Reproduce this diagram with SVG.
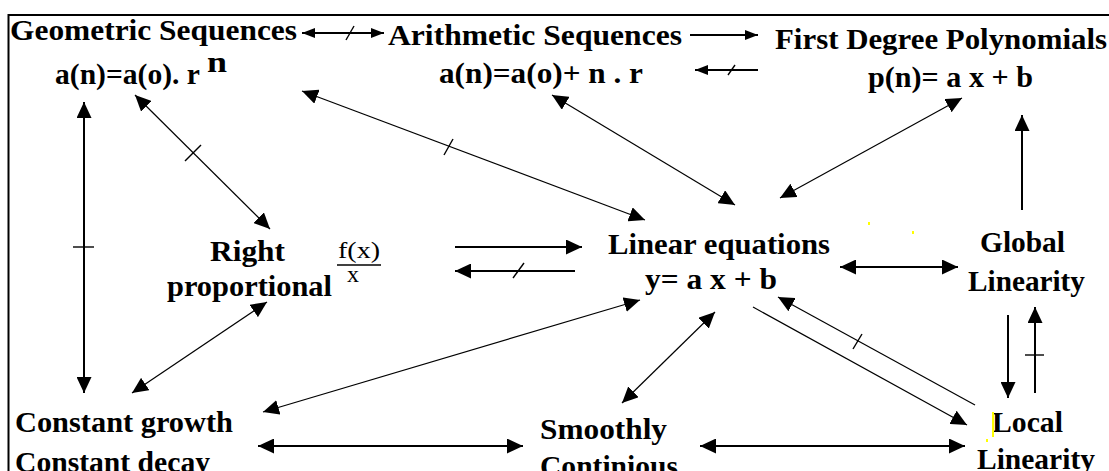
<svg xmlns="http://www.w3.org/2000/svg" width="1109" height="471" viewBox="0 0 1109 471">
<style>
.t{font-family:"Liberation Serif","Times New Roman",serif;font-weight:bold;font-size:29px;fill:#000}
.r{font-family:"Liberation Serif","Times New Roman",serif;font-weight:normal;font-size:24px;fill:#000}
.c line{stroke:#000;stroke-width:1.4;fill:none}
.c .h{stroke-width:2}
.c .m{stroke-width:1.2}
</style>
<defs>
<marker id="a" viewBox="0 0 16 15" refX="16" refY="7.5" markerWidth="16" markerHeight="15" markerUnits="userSpaceOnUse" orient="auto-start-reverse"><path d="M0,0 L16,7.5 L0,15 z" fill="#000"/></marker>
<marker id="s" viewBox="0 0 13 10" refX="13" refY="5" markerWidth="13" markerHeight="10" markerUnits="userSpaceOnUse" orient="auto-start-reverse"><path d="M0,0 L13,5 L0,10 z" fill="#000"/></marker>
</defs>
<rect width="1109" height="471" fill="#fff"/>
<g id="frame" stroke="#000" stroke-width="2" fill="none"><path d="M8.5,471 V15 H1109"/></g>

<g id="geometric">
<text class="t" x="10" y="40" textLength="287" lengthAdjust="spacingAndGlyphs">Geometric Sequences</text>
<text class="t" x="55" y="84" textLength="145" lengthAdjust="spacingAndGlyphs">a(n)=a(o). r</text>
<text class="t" x="207" y="72" textLength="20" lengthAdjust="spacingAndGlyphs">n</text>
</g>
<g id="arithmetic">
<text class="t" x="388" y="45" textLength="294" lengthAdjust="spacingAndGlyphs">Arithmetic Sequences</text>
<text class="t" x="439" y="83" textLength="204" lengthAdjust="spacingAndGlyphs">a(n)=a(o)+ n . r</text>
</g>
<g id="firstdegree">
<text class="t" x="775" y="49" textLength="332" lengthAdjust="spacingAndGlyphs">First Degree Polynomials</text>
<text class="t" x="868" y="87" textLength="165" lengthAdjust="spacingAndGlyphs">p(n)= a x + b</text>
</g>
<g id="right">
<text class="t" x="210" y="261" textLength="75" lengthAdjust="spacingAndGlyphs">Right</text>
<text class="t" x="167" y="296" textLength="165" lengthAdjust="spacingAndGlyphs">proportional</text>
<text class="r" x="338" y="258" textLength="42" lengthAdjust="spacingAndGlyphs">f(x)</text>
<line x1="337" y1="265" x2="381" y2="265" stroke="#000" stroke-width="1.5"/>
<text class="r" x="347" y="282">x</text>
</g>
<g id="linear">
<text class="t" x="608" y="254" textLength="222" lengthAdjust="spacingAndGlyphs">Linear equations</text>
<text class="t" x="645" y="289" textLength="132" lengthAdjust="spacingAndGlyphs">y= a x + b</text>
</g>
<g id="global">
<text class="t" x="980" y="252" textLength="85" lengthAdjust="spacingAndGlyphs">Global</text>
<text class="t" x="968" y="291" textLength="117" lengthAdjust="spacingAndGlyphs">Linearity</text>
</g>
<g id="local">
<text class="t" x="992" y="432" textLength="71" lengthAdjust="spacingAndGlyphs">Local</text>
<text class="t" x="977" y="469" textLength="118" lengthAdjust="spacingAndGlyphs">Linearity</text>
</g>
<g id="smoothly">
<text class="t" x="540" y="439" textLength="127" lengthAdjust="spacingAndGlyphs">Smoothly</text>
<text class="t" x="540" y="476" textLength="138" lengthAdjust="spacingAndGlyphs">Continious</text>
</g>
<g id="constant">
<text class="t" x="15" y="432" textLength="218" lengthAdjust="spacingAndGlyphs">Constant growth</text>
<text class="t" x="15" y="472" textLength="195" lengthAdjust="spacingAndGlyphs">Constant decay</text>
</g>

<g id="connectors" class="c">
<!-- top row -->
<line class="h" x1="302" y1="33" x2="384" y2="33" marker-start="url(#s)" marker-end="url(#s)"/>
<line x1="346" y1="40" x2="354" y2="26"/>
<line class="h" x1="690" y1="35" x2="758" y2="35" marker-end="url(#s)"/>
<line class="h" x1="758" y1="70" x2="695" y2="70" marker-end="url(#s)"/>
<line x1="728" y1="75" x2="735" y2="65"/>
<!-- left vertical -->
<line class="h" x1="84" y1="102" x2="84" y2="393" marker-start="url(#a)" marker-end="url(#a)"/>
<line x1="73" y1="247" x2="94" y2="247"/>
<!-- geometric to right -->
<line class="m" x1="135" y1="95" x2="270" y2="229" marker-start="url(#a)" marker-end="url(#a)"/>
<line x1="185" y1="161" x2="201" y2="145"/>
<!-- geometric to linear -->
<line class="m" x1="302" y1="91" x2="645" y2="220" marker-start="url(#a)" marker-end="url(#a)"/>
<line x1="444" y1="155" x2="453" y2="139"/>
<!-- arithmetic to linear -->
<line class="m" x1="552" y1="95" x2="735" y2="205" marker-start="url(#a)" marker-end="url(#a)"/>
<!-- first degree to linear -->
<line class="m" x1="962" y1="98" x2="780" y2="198" marker-start="url(#a)" marker-end="url(#a)"/>
<!-- global to first degree -->
<line class="h" x1="1022" y1="210" x2="1022" y2="115" marker-end="url(#a)"/>
<!-- right <-> linear -->
<line class="h" x1="455" y1="247" x2="582" y2="247" marker-end="url(#a)"/>
<line class="h" x1="575" y1="271" x2="455" y2="271" marker-end="url(#a)"/>
<line x1="513" y1="278" x2="524" y2="263"/>
<!-- linear <-> global -->
<line class="h" x1="840" y1="267" x2="958" y2="267" marker-start="url(#a)" marker-end="url(#a)"/>
<!-- global <-> local -->
<line class="h" x1="1008" y1="315" x2="1008" y2="398" marker-end="url(#a)"/>
<line class="h" x1="1035" y1="393" x2="1035" y2="307" marker-end="url(#a)"/>
<line x1="1025" y1="355" x2="1044" y2="355"/>
<!-- linear <-> local -->
<line class="m" x1="975" y1="405" x2="778" y2="297" marker-end="url(#a)"/>
<line x1="853" y1="349" x2="862" y2="334"/>
<line class="m" x1="753" y1="307" x2="967" y2="425" marker-end="url(#a)"/>
<!-- smoothly <-> linear -->
<line class="m" x1="622" y1="403" x2="715" y2="312" marker-start="url(#a)" marker-end="url(#a)"/>
<!-- constant <-> linear -->
<line class="m" x1="263" y1="412" x2="640" y2="300" marker-start="url(#a)" marker-end="url(#a)"/>
<!-- right <-> constant -->
<line class="m" x1="132" y1="393" x2="267" y2="302" marker-start="url(#a)" marker-end="url(#a)"/>
<!-- bottom row -->
<line class="h" x1="258" y1="446" x2="523" y2="446" marker-start="url(#a)" marker-end="url(#a)"/>
<line class="h" x1="700" y1="446" x2="965" y2="446" marker-start="url(#a)" marker-end="url(#a)"/>
</g>
<g id="specks" fill="#ff0">
<rect x="868" y="222" width="2" height="3"/>
<rect x="912" y="231" width="2" height="3"/>
<rect x="992" y="412" width="2" height="25"/>
<rect x="986" y="439" width="2" height="3"/>
</g>
</svg>
